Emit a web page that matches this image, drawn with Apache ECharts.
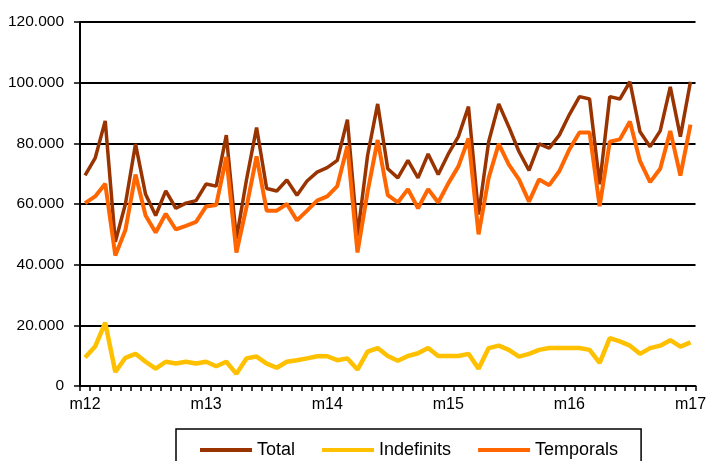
<!DOCTYPE html>
<html>
<head>
<meta charset="utf-8">
<script src="https://cdn.jsdelivr.net/npm/echarts@6/dist/echarts.min.js"></script>
<style>html,body{margin:0;padding:0;background:#fff}#c{width:709px;height:461px}</style>
</head>
<body>
<div id="c"></div>
<script>
const categories = [
  '01/12','02/12','03/12','04/12','05/12','06/12','07/12','08/12','09/12','10/12','11/12','12/12',
  '01/13','02/13','03/13','04/13','05/13','06/13','07/13','08/13','09/13','10/13','11/13','12/13',
  '01/14','02/14','03/14','04/14','05/14','06/14','07/14','08/14','09/14','10/14','11/14','12/14',
  '01/15','02/15','03/15','04/15','05/15','06/15','07/15','08/15','09/15','10/15','11/15','12/15',
  '01/16','02/16','03/16','04/16','05/16','06/16','07/16','08/16','09/16','10/16','11/16','12/16',
  '01/17'
];
const xTickLabels = ['m12','m13','m14','m15','m16','m17'];
const yTickLabels = ['0','20.000','40.000','60.000','80.000','100.000','120.000'];

const total = [
  69400,75100,87400,47500,60000,79800,63200,56200,64300,58600,60300,61100,
  66600,65900,82700,48500,68000,85200,65100,64300,67900,62900,67600,70500,
  72000,74400,87800,49500,76000,93000,71600,68600,74400,68600,76500,69700,
  76500,82200,92100,56500,80500,93000,85400,77300,71100,79800,78400,82700,
  89500,95400,94600,66500,95400,94600,100300,83800,78900,84100,98600,82200,
  100300
];
const indefinits = [
  9400,13000,20900,4600,9300,10600,8000,5700,8000,7400,8000,7400,
  8000,6500,8000,4000,9100,9700,7400,6000,8000,8500,9100,9800,
  9800,8500,9100,5400,11300,12500,9900,8300,9900,10800,12500,9900,
  9900,9900,10600,5700,12500,13300,11900,9700,10600,11900,12500,12500,
  12500,12500,11900,7600,15800,14700,13300,10600,12500,13300,15100,13000,
  14400
];
const temporals = [
  60300,62500,66700,43000,51400,69700,56200,50600,56800,51600,52800,54100,
  59200,59700,75500,44000,59000,75700,57800,57800,60000,54600,57800,61100,
  62500,65900,79100,44000,64000,81100,62900,60500,64900,58600,64900,60500,
  66800,72400,81600,50000,68600,79800,73000,68100,60800,68100,66200,70800,
  78000,83600,83600,59300,80500,81300,87200,74100,67200,71600,84100,69400,
  86200
];

const chart = echarts.init(document.getElementById('c'), null, {renderer: 'canvas'});
const font = 'Liberation Sans, Arial, sans-serif';
chart.setOption({
  animation: false,
  backgroundColor: '#fff',
  grid: {left: 80, right: 9, top: 22, bottom: 75, containLabel: false},
  legend: {
    data: [
      {name: 'Total', icon: 'rect', itemStyle: {color: '#993300'}},
      {name: 'Indefinits', icon: 'rect', itemStyle: {color: '#FFC000'}},
      {name: 'Temporals', icon: 'rect', itemStyle: {color: '#FF6600'}}
    ],
    left: 176, top: 429,
    padding: [11, 23, 20, 24],
    itemGap: 27,
    itemWidth: 52, itemHeight: 4,
    borderColor: '#000', borderWidth: 1.5,
    textStyle: {fontFamily: font, fontSize: 18, color: '#000', lineHeight: 20}
  },
  xAxis: {
    type: 'category',
    data: categories,
    boundaryGap: true,
    axisLine: {lineStyle: {color: '#000', width: 2}},
    axisTick: {show: true, interval: 0, length: 5, lineStyle: {color: '#000', width: 1.5}},
    axisLabel: {
      interval: 0,
      margin: 11,
      fontFamily: font, fontSize: 16, color: '#000',
      formatter: (v, i) => (i % 12 === 0 ? xTickLabels[i / 12] : '')
    },
    splitLine: {show: false}
  },
  yAxis: {
    type: 'value',
    min: 0, max: 120000, interval: 20000,
    axisLine: {show: true, lineStyle: {color: '#000', width: 2}},
    axisTick: {show: true, length: 6, lineStyle: {color: '#000', width: 1.5}},
    axisLabel: {
      margin: 16,
      fontFamily: font, fontSize: 15.5, color: '#000',
      formatter: (v) => yTickLabels[Math.round(v / 20000)]
    },
    splitLine: {show: true, lineStyle: {color: '#000', width: 2}}
  },
  series: [
    {name: 'Total', type: 'line', data: total, symbol: 'none', smooth: false,
     lineStyle: {color: '#993300', width: 3.5}, itemStyle: {color: '#993300'}, z: 3},
    {name: 'Indefinits', type: 'line', data: indefinits, symbol: 'none',
     lineStyle: {color: '#FFC000', width: 4.5}, itemStyle: {color: '#FFC000'}, z: 2},
    {name: 'Temporals', type: 'line', data: temporals, symbol: 'none',
     lineStyle: {color: '#FF6600', width: 4}, itemStyle: {color: '#FF6600'}, z: 4}
  ]
});
</script>
</body>
</html>
